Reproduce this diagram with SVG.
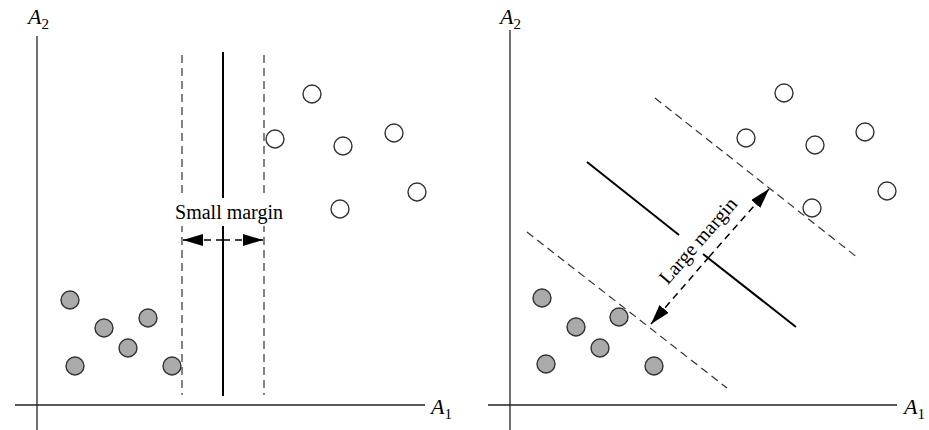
<svg xmlns="http://www.w3.org/2000/svg" width="929" height="430" viewBox="0 0 929 430">
<style>
.ax{stroke:#222;stroke-width:1.3;fill:none}
.sol{stroke:#000;stroke-width:2;fill:none}
.dash{stroke:#333;stroke-width:1.2;stroke-dasharray:8 5;fill:none}
.adash{stroke:#000;stroke-width:1.5;stroke-dasharray:7 5;fill:none}
.op{fill:#fff;stroke:#333;stroke-width:1.4}
.fi{fill:#aaa;stroke:#333;stroke-width:1.4}
.lab{font-family:"Liberation Serif",serif;font-size:20px;fill:#000}
.ttl{font-family:"Liberation Serif",serif;font-size:22px;font-style:italic;fill:#000}
.sub{font-size:15px;font-style:normal}
</style>
<defs>
<marker id="ah" viewBox="0 0 20 12" refX="20" refY="6" markerWidth="20" markerHeight="12" markerUnits="userSpaceOnUse" orient="auto">
<path d="M0,0 L20,6 L0,12 Z" fill="#000"/>
</marker>
</defs>
<g id="left-axes">
<line class="ax" x1="37" y1="36" x2="37" y2="430"/>
<line class="ax" x1="15" y1="405" x2="425" y2="405"/>
<text class="ttl" x="28" y="24">A<tspan class="sub" dy="5">2</tspan></text>
<text class="ttl" x="431" y="414">A<tspan class="sub" dy="5">1</tspan></text>
</g>
<g id="left-lines">
<line class="sol" x1="223" y1="52" x2="223" y2="396"/>
<line class="dash" x1="182" y1="55" x2="182" y2="395"/>
<line class="dash" x1="264" y1="55" x2="264" y2="395"/>
</g>
<g id="left-open">
<circle class="op" cx="312" cy="94" r="9"/>
<circle class="op" cx="275" cy="139" r="9"/>
<circle class="op" cx="343" cy="146" r="9"/>
<circle class="op" cx="394" cy="133" r="9"/>
<circle class="op" cx="340" cy="209" r="9"/>
<circle class="op" cx="417" cy="192" r="9"/>
</g>
<g id="left-filled">
<circle class="fi" cx="70" cy="300" r="9"/>
<circle class="fi" cx="104" cy="328" r="9"/>
<circle class="fi" cx="148" cy="318" r="9"/>
<circle class="fi" cx="128" cy="348" r="9"/>
<circle class="fi" cx="75" cy="366" r="9"/>
<circle class="fi" cx="172" cy="366" r="9"/>
</g>
<g id="connectors">
<line class="adash" x1="223" y1="240" x2="183" y2="240" marker-end="url(#ah)"/>
<line class="adash" x1="223" y1="240" x2="263" y2="240" marker-end="url(#ah)"/>
<line class="adash" x1="709" y1="257" x2="651" y2="324" marker-end="url(#ah)"/>
<line class="adash" x1="709" y1="257" x2="769" y2="189" marker-end="url(#ah)"/>
</g>
<g id="small-margin-label">
<rect x="170" y="198" width="120" height="28" fill="#fff"/>
<text class="lab" x="229" y="219" text-anchor="middle">Small margin</text>
</g>
<g id="right-axes">
<line class="ax" x1="510" y1="30" x2="510" y2="430"/>
<line class="ax" x1="488" y1="405" x2="897" y2="405"/>
<text class="ttl" x="500" y="24">A<tspan class="sub" dy="5">2</tspan></text>
<text class="ttl" x="904" y="414">A<tspan class="sub" dy="5">1</tspan></text>
</g>
<g id="right-lines">
<line class="sol" x1="587" y1="162" x2="679" y2="235"/>
<line class="sol" x1="703" y1="254" x2="796" y2="327"/>
<line class="dash" x1="655" y1="98" x2="858" y2="258"/>
<line class="dash" x1="527" y1="232" x2="727" y2="388"/>
</g>
<g id="right-open">
<circle class="op" cx="784" cy="93" r="9"/>
<circle class="op" cx="746" cy="138" r="9"/>
<circle class="op" cx="815" cy="145" r="9"/>
<circle class="op" cx="865" cy="132" r="9"/>
<circle class="op" cx="812" cy="208" r="9"/>
<circle class="op" cx="887" cy="191" r="9"/>
</g>
<g id="right-filled">
<circle class="fi" cx="542" cy="298" r="9"/>
<circle class="fi" cx="576" cy="327" r="9"/>
<circle class="fi" cx="619" cy="317" r="9"/>
<circle class="fi" cx="600" cy="348" r="9"/>
<circle class="fi" cx="546" cy="364" r="9"/>
<circle class="fi" cx="654" cy="366" r="9"/>
</g>
<g id="large-margin-label">
<text class="lab" text-anchor="middle" transform="translate(703,245) rotate(-49)">Large margin</text>
</g>
</svg>
